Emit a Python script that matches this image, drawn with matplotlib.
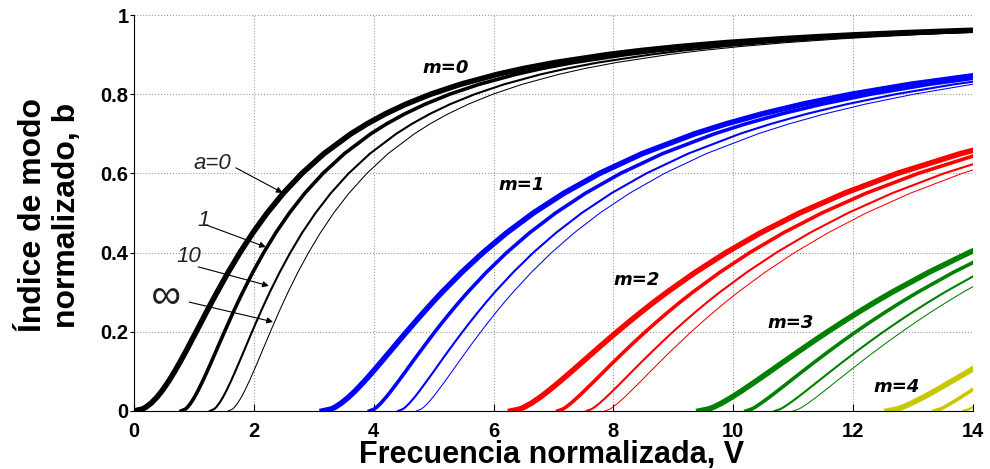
import matplotlib
matplotlib.use("Agg")
import matplotlib.pyplot as plt

plt.rcParams['font.family'] = ['Liberation Sans', 'DejaVu Sans']

# normalized index b (grid) and normalized frequency V for each mode m / asymmetry a
b_m0 = [0, 0.005, 0.01, 0.02, 0.035, 0.05, 0.075, 0.1, 0.125, 0.15,
        0.175, 0.2, 0.225, 0.25, 0.275, 0.3, 0.35, 0.4, 0.45, 0.5,
        0.55, 0.6, 0.65, 0.7, 0.725, 0.75, 0.775, 0.8, 0.825, 0.85,
        0.865, 0.88, 0.9, 0.91, 0.92, 0.93, 0.94, 0.945, 0.95, 0.955,
        0.96, 0.965, 0.97]
V_m0_a0 = [0, 0.142, 0.201, 0.287, 0.383, 0.463, 0.577, 0.678, 0.773, 0.863,
           0.950, 1.037, 1.123, 1.209, 1.296, 1.386, 1.570, 1.768, 1.983, 2.221,
           2.491, 2.802, 3.170, 3.619, 3.887, 4.189, 4.539, 4.951, 5.446, 6.058,
           6.502, 7.027, 7.899, 8.441, 9.079, 9.850, 10.805, 11.377, 12.033, 12.794,
           13.694, 14.781, 16.127]
V_m0_a1 = [0.785, 0.861, 0.895, 0.947, 1.009, 1.063, 1.144, 1.220, 1.293, 1.365,
           1.437, 1.509, 1.583, 1.657, 1.734, 1.814, 1.981, 2.164, 2.365, 2.592,
           2.850, 3.152, 3.511, 3.951, 4.214, 4.513, 4.860, 5.268, 5.760, 6.369,
           6.811, 7.334, 8.204, 8.744, 9.381, 10.151, 11.104, 11.676, 12.331, 13.092,
           13.992, 15.077, 16.424]
V_m0_a10 = [1.265, 1.339, 1.373, 1.424, 1.485, 1.537, 1.616, 1.689, 1.760, 1.830,
            1.899, 1.969, 2.041, 2.113, 2.188, 2.265, 2.429, 2.608, 2.805, 3.028,
            3.283, 3.581, 3.937, 4.375, 4.636, 4.933, 5.278, 5.686, 6.176, 6.783,
            7.224, 7.746, 8.615, 9.154, 9.791, 10.560, 11.513, 12.085, 12.739, 13.500,
            14.400, 15.485, 16.831]
V_m0_ainf = [1.571, 1.646, 1.679, 1.730, 1.791, 1.843, 1.922, 1.995, 2.066, 2.135,
             2.205, 2.275, 2.346, 2.418, 2.493, 2.570, 2.733, 2.912, 3.110, 3.332,
             3.587, 3.885, 4.240, 4.678, 4.939, 5.236, 5.581, 5.988, 6.478, 7.085,
             7.526, 8.048, 8.917, 9.456, 10.093, 10.862, 11.815, 12.386, 13.041, 13.802,
             14.701, 15.787, 17.133]

b_m1 = b_m0[:30]
V_m1_a0 = [3.142, 3.291, 3.359, 3.460, 3.581, 3.686, 3.843, 3.990, 4.131, 4.270,
           4.409, 4.549, 4.692, 4.837, 4.986, 5.140, 5.467, 5.824, 6.219, 6.664,
           7.174, 7.769, 8.481, 9.355, 9.878, 10.472, 11.162, 11.976, 12.956, 14.169]
V_m1_a1 = [3.927, 4.010, 4.053, 4.120, 4.207, 4.286, 4.411, 4.532, 4.651, 4.773,
           4.896, 5.021, 5.151, 5.285, 5.424, 5.568, 5.878, 6.219, 6.601, 7.035,
           7.534, 8.119, 8.821, 9.687, 10.205, 10.796, 11.483, 12.293, 13.270, 14.480]
V_m1_a10 = [4.406, 4.489, 4.531, 4.598, 4.683, 4.760, 4.882, 5.001, 5.118, 5.237,
            5.358, 5.482, 5.610, 5.741, 5.878, 6.020, 6.326, 6.663, 7.042, 7.471,
            7.967, 8.549, 9.248, 10.110, 10.627, 11.217, 11.901, 12.711, 13.686, 14.894]
V_m1_ainf = [4.712, 4.795, 4.837, 4.904, 4.989, 5.066, 5.188, 5.307, 5.424, 5.543,
             5.663, 5.787, 5.915, 6.046, 6.182, 6.325, 6.630, 6.968, 7.346, 7.775,
             8.270, 8.852, 9.551, 10.413, 10.930, 11.519, 12.204, 13.013, 13.988, 15.196]

b_m2 = b_m0[:24]
V_m2_a0 = [6.283, 6.441, 6.516, 6.634, 6.779, 6.909, 7.110, 7.302, 7.490, 7.678,
           7.868, 8.061, 8.260, 8.464, 8.675, 8.895, 9.364, 9.880, 10.455, 11.107,
           11.857, 12.737, 13.791, 15.091]
V_m2_a1 = [7.069, 7.160, 7.210, 7.294, 7.405, 7.509, 7.677, 7.843, 8.010, 8.180,
           8.354, 8.534, 8.720, 8.913, 9.113, 9.323, 9.774, 10.275, 10.837, 11.478,
           12.217, 13.086, 14.131, 15.423]
V_m2_a10 = [7.548, 7.638, 7.688, 7.771, 7.881, 7.983, 8.149, 8.312, 8.477, 8.645,
            8.817, 8.994, 9.178, 9.369, 9.567, 9.775, 10.222, 10.719, 11.278, 11.914,
            12.650, 13.516, 14.558, 15.846]
V_m2_ainf = [7.854, 7.945, 7.994, 8.077, 8.187, 8.289, 8.455, 8.618, 8.783, 8.950,
             9.122, 9.299, 9.483, 9.674, 9.872, 10.080, 10.527, 11.023, 11.582, 12.218,
             12.954, 13.819, 14.861, 16.149]

b_m3 = b_m0[:19]
V_m3_a0 = [9.425, 9.590, 9.674, 9.808, 9.977, 10.132, 10.376, 10.613, 10.848, 11.086,
           11.327, 11.574, 11.829, 12.092, 12.365, 12.650, 13.260, 13.935, 14.691]
V_m3_a1 = [10.210, 10.309, 10.368, 10.468, 10.603, 10.732, 10.944, 11.155, 11.369, 11.588,
           11.813, 12.046, 12.289, 12.540, 12.803, 13.078, 13.671, 14.331, 15.074]
V_m3_a10 = [10.689, 10.788, 10.846, 10.945, 11.079, 11.207, 11.415, 11.624, 11.836, 12.052,
            12.276, 12.506, 12.747, 12.996, 13.257, 13.530, 14.119, 14.775, 15.514]
V_m3_ainf = [10.996, 11.094, 11.152, 11.251, 11.385, 11.513, 11.721, 11.930, 12.141, 12.358,
             12.581, 12.812, 13.052, 13.301, 13.562, 13.835, 14.423, 15.079, 15.818]

b_m4 = b_m0[:11]
V_m4_a0 = [12.566, 12.740, 12.831, 12.981, 13.176, 13.356, 13.643, 13.925, 14.207, 14.493, 14.786]
V_m4_a1 = [13.352, 13.459, 13.525, 13.641, 13.801, 13.956, 14.210, 14.466, 14.727, 14.995, 15.272]
V_m4_a10 = [13.831, 13.937, 14.003, 14.118, 14.277, 14.430, 14.682, 14.936, 15.194, 15.460, 15.734]
V_m4_ainf = [14.137, 14.244, 14.309, 14.424, 14.583, 14.736, 14.988, 15.241, 15.500, 15.766, 16.040]

mode_labels = ['m=0', 'm=1', 'm=2', 'm=3', 'm=4']
a_labels = ['a=0', '1', '10', '\u221e']

colors = ['black', '#0000ff', '#ff0000', '#008000', '#c8c800']
widths = [4.0, 2.6, 1.5, 0.75]   # a = 0, 1, 10, inf

modes = [
    (b_m0, [V_m0_a0, V_m0_a1, V_m0_a10, V_m0_ainf]),
    (b_m1, [V_m1_a0, V_m1_a1, V_m1_a10, V_m1_ainf]),
    (b_m2, [V_m2_a0, V_m2_a1, V_m2_a10, V_m2_ainf]),
    (b_m3, [V_m3_a0, V_m3_a1, V_m3_a10, V_m3_ainf]),
    (b_m4, [V_m4_a0, V_m4_a1, V_m4_a10, V_m4_ainf]),
]

fig = plt.figure(figsize=(9.9, 4.69), dpi=100)
ax = fig.add_axes([0.1354, 0.1237, 0.8474, 0.8443])

for m, (bb, curves) in enumerate(modes):
    for k, vv in enumerate(curves):
        ax.plot(vv, bb, color=colors[m], lw=widths[k], solid_joinstyle='round')

ax.set_xlim(0, 14)
ax.set_ylim(0, 1)
ax.set_xticks(range(0, 15, 2))
ax.set_yticks([0, 0.2, 0.4, 0.6, 0.8, 1])
ax.set_yticklabels(['0', '0.2', '0.4', '0.6', '0.8', '1'])
ax.grid(True, linestyle=':', color='#999999', linewidth=0.8)
ax.spines['top'].set_visible(False)
ax.spines['right'].set_visible(False)
ax.tick_params(axis='x', direction='in', length=5, pad=8)
ax.tick_params(axis='y', direction='out', length=3, pad=1)
for lab in ax.get_xticklabels() + ax.get_yticklabels():
    lab.set_fontweight('bold')
    lab.set_fontsize(14.5)

fig.text(0.5576, 0.0128, 'Frecuencia normalizada, V', fontsize=22, fontweight='bold',
         ha='center', va='baseline')
fig.text(0.0505, 0.5416, 'Índice de modo\nnormalizado, b', fontsize=23, fontweight='bold',
         rotation=90, ha='center', va='center', linespacing=1.15)

# mode labels
mode_pos = [(5.2, 0.866), (6.47, 0.571), (8.38, 0.331), (10.95, 0.222), (12.73, 0.061)]
for txt, (x, y) in zip(mode_labels, mode_pos):
    ax.text(x, y, txt, fontsize=13, fontweight='bold', style='italic',
            family='DejaVu Sans', ha='center', va='center')

# asymmetry annotations with arrows
a_text = [(1.31, 0.626), (1.16, 0.482), (0.92, 0.389), (0.53, 0.288)]
a_start = [(1.70, 0.614), (1.20, 0.470), (1.07, 0.364), (0.92, 0.275)]
a_end = [(2.48, 0.551), (2.20, 0.414), (2.25, 0.316), (2.32, 0.225)]
for k, txt in enumerate(a_labels):
    size = 30 if txt == '\u221e' else 16
    ax.text(a_text[k][0], a_text[k][1], txt, fontsize=size, style='italic',
            ha='center', va='center', color='#222222')
    ax.annotate('', xy=a_end[k], xytext=a_start[k],
                arrowprops=dict(arrowstyle='-|>', color='black', lw=0.8,
                                mutation_scale=9, shrinkA=0, shrinkB=0))

fig.savefig('out.png', dpi=100)
